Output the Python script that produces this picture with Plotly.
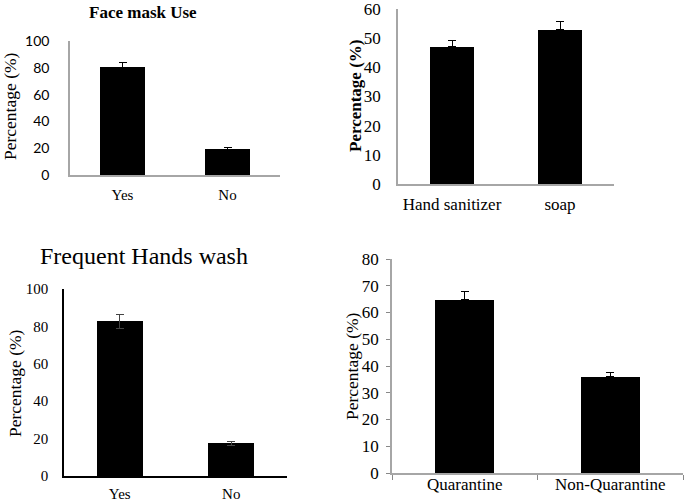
import plotly.graph_objects as go

W, H = 685, 502

# Data
mask_cats = ["Yes", "No"]
mask_vals = [80.6, 19.4]
mask_err = [3.7, 1.3]

hyg_cats = ["Hand sanitizer", "soap"]
hyg_vals = [47.1, 52.9]
hyg_err = [2.2, 2.7]

wash_cats = ["Yes", "No"]
wash_vals = [82.7, 17.5]
wash_err = [3.9, 1.0]

quar_cats = ["Quarantine", "Non-Quarantine"]
quar_vals = [64.7, 35.9]
quar_err = [3.1, 1.5]

SERIF = "Liberation Serif, Times New Roman, serif"
SANS = "Lato, Liberation Sans, sans-serif"
GRAY = "#a6a6a6"

def fx(px):
    return px / W

def fy(py):
    return 1 - py / H

def px_x(a, b):
    return [fx(a), fx(b)]

def px_y(top, bottom):
    return [fy(bottom), fy(top)]

fig = go.Figure()

fig.add_trace(go.Bar(x=mask_cats, y=mask_vals, width=0.42, marker=dict(color="black", line=dict(width=0)),
                     error_y=dict(type="data", array=mask_err, symmetric=False, arrayminus=[0, 0],
                                  color="black", thickness=1, width=4),
                     xaxis="x", yaxis="y"))
fig.add_trace(go.Bar(x=hyg_cats, y=hyg_vals, width=0.4, marker=dict(color="black", line=dict(width=0)),
                     error_y=dict(type="data", array=hyg_err, symmetric=False, arrayminus=[0, 0],
                                  color="black", thickness=1, width=4),
                     xaxis="x2", yaxis="y2"))
fig.add_trace(go.Bar(x=wash_cats, y=wash_vals, width=0.41, marker=dict(color="black", line=dict(width=0)),
                     error_y=dict(type="data", array=wash_err, color="#444444", thickness=1, width=4),
                     xaxis="x3", yaxis="y3"))
fig.add_trace(go.Bar(x=quar_cats, y=quar_vals, width=0.405, marker=dict(color="black", line=dict(width=0)),
                     error_y=dict(type="data", array=quar_err, symmetric=False, arrayminus=[0, 0],
                                  color="black", thickness=1, width=4),
                     xaxis="x4", yaxis="y4"))

common_y = dict(showgrid=False, zeroline=False, showline=True, ticks="", automargin=False,
                ticklabeloverflow="allow")
common_x = dict(showgrid=False, zeroline=False, showline=True, ticks="", type="category", automargin=False,
                ticklabeloverflow="allow")

fig.update_layout(
    template="none",
    width=W, height=H, showlegend=False,
    margin=dict(l=0, r=0, t=0, b=0, pad=0),
    paper_bgcolor="white", plot_bgcolor="white",
    bargap=0,
    xaxis=dict(common_x, domain=px_x(70, 280), anchor="y", linecolor=GRAY, linewidth=1.5,
               tickfont=dict(family=SERIF, size=15, color="black"), ticklabelstandoff=5),
    yaxis=dict(common_y, domain=px_y(41, 175), anchor="x", range=[0, 100], dtick=20,
               linecolor=GRAY, linewidth=1.5, tickfont=dict(family=SANS, size=14, color="black"),
               ticklabelstandoff=16),
    xaxis2=dict(common_x, domain=px_x(398, 614), anchor="y2", linecolor=GRAY, linewidth=1.5,
                tickfont=dict(family=SERIF, size=17, color="black"), ticklabelstandoff=4),
    yaxis2=dict(common_y, domain=px_y(9, 184), anchor="x2", range=[0, 60], dtick=10,
                linecolor=GRAY, linewidth=1.5, tickfont=dict(family=SERIF, size=17, color="black"),
                ticklabelstandoff=12),
    xaxis3=dict(common_x, domain=px_x(64, 287), anchor="y3", linecolor="black", linewidth=1.5,
                tickfont=dict(family=SERIF, size=15, color="black"), ticklabelstandoff=3),
    yaxis3=dict(common_y, domain=px_y(289, 476), anchor="x3", range=[0, 100], dtick=20,
                linecolor="black", linewidth=1.5, tickfont=dict(family=SERIF, size=15, color="black"),
                ticklabelstandoff=11),
    xaxis4=dict(common_x, domain=px_x(392, 683), anchor="y4", linecolor=GRAY, linewidth=1.5,
                ticks="outside", tickson="boundaries", ticklen=5, tickcolor="#888888",
                tickfont=dict(family=SERIF, size=17, color="black"), ticklabelstandoff=-5),
    yaxis4=dict(common_y, domain=px_y(259, 473), anchor="x4", range=[0, 80], dtick=10,
                linecolor=GRAY, linewidth=1.5, ticks="outside", ticklen=4, tickcolor="#888888",
                tickfont=dict(family=SERIF, size=17, color="black"), ticklabelstandoff=4),
)

annots = [
    dict(text="<b>Face mask Use</b>", x=fx(143), y=fy(13), font=dict(family=SERIF, size=17)),
    dict(text="Frequent Hands wash", x=fx(144), y=fy(256), font=dict(family=SERIF, size=24)),
    dict(text="Percentage (%)", x=fx(10), y=fy(106), textangle=-90, font=dict(family=SERIF, size=17.5)),
    dict(text="<b>Percentage (%)</b>", x=fx(355), y=fy(96), textangle=-90, font=dict(family=SERIF, size=17)),
    dict(text="Percentage (%)", x=fx(15), y=fy(383), textangle=-90, font=dict(family=SERIF, size=17.5)),
    dict(text="Percentage (%)", x=fx(352), y=fy(366), textangle=-90, font=dict(family=SERIF, size=17.5)),
]
for a in annots:
    a.update(xref="paper", yref="paper", showarrow=False, xanchor="center", yanchor="middle")
    a["font"]["color"] = "black"
fig.update_layout(annotations=annots)

fig.write_html("out.html", config={"displayModeBar": False},
               post_script="document.body.style.margin='0';document.body.style.padding='0';")
